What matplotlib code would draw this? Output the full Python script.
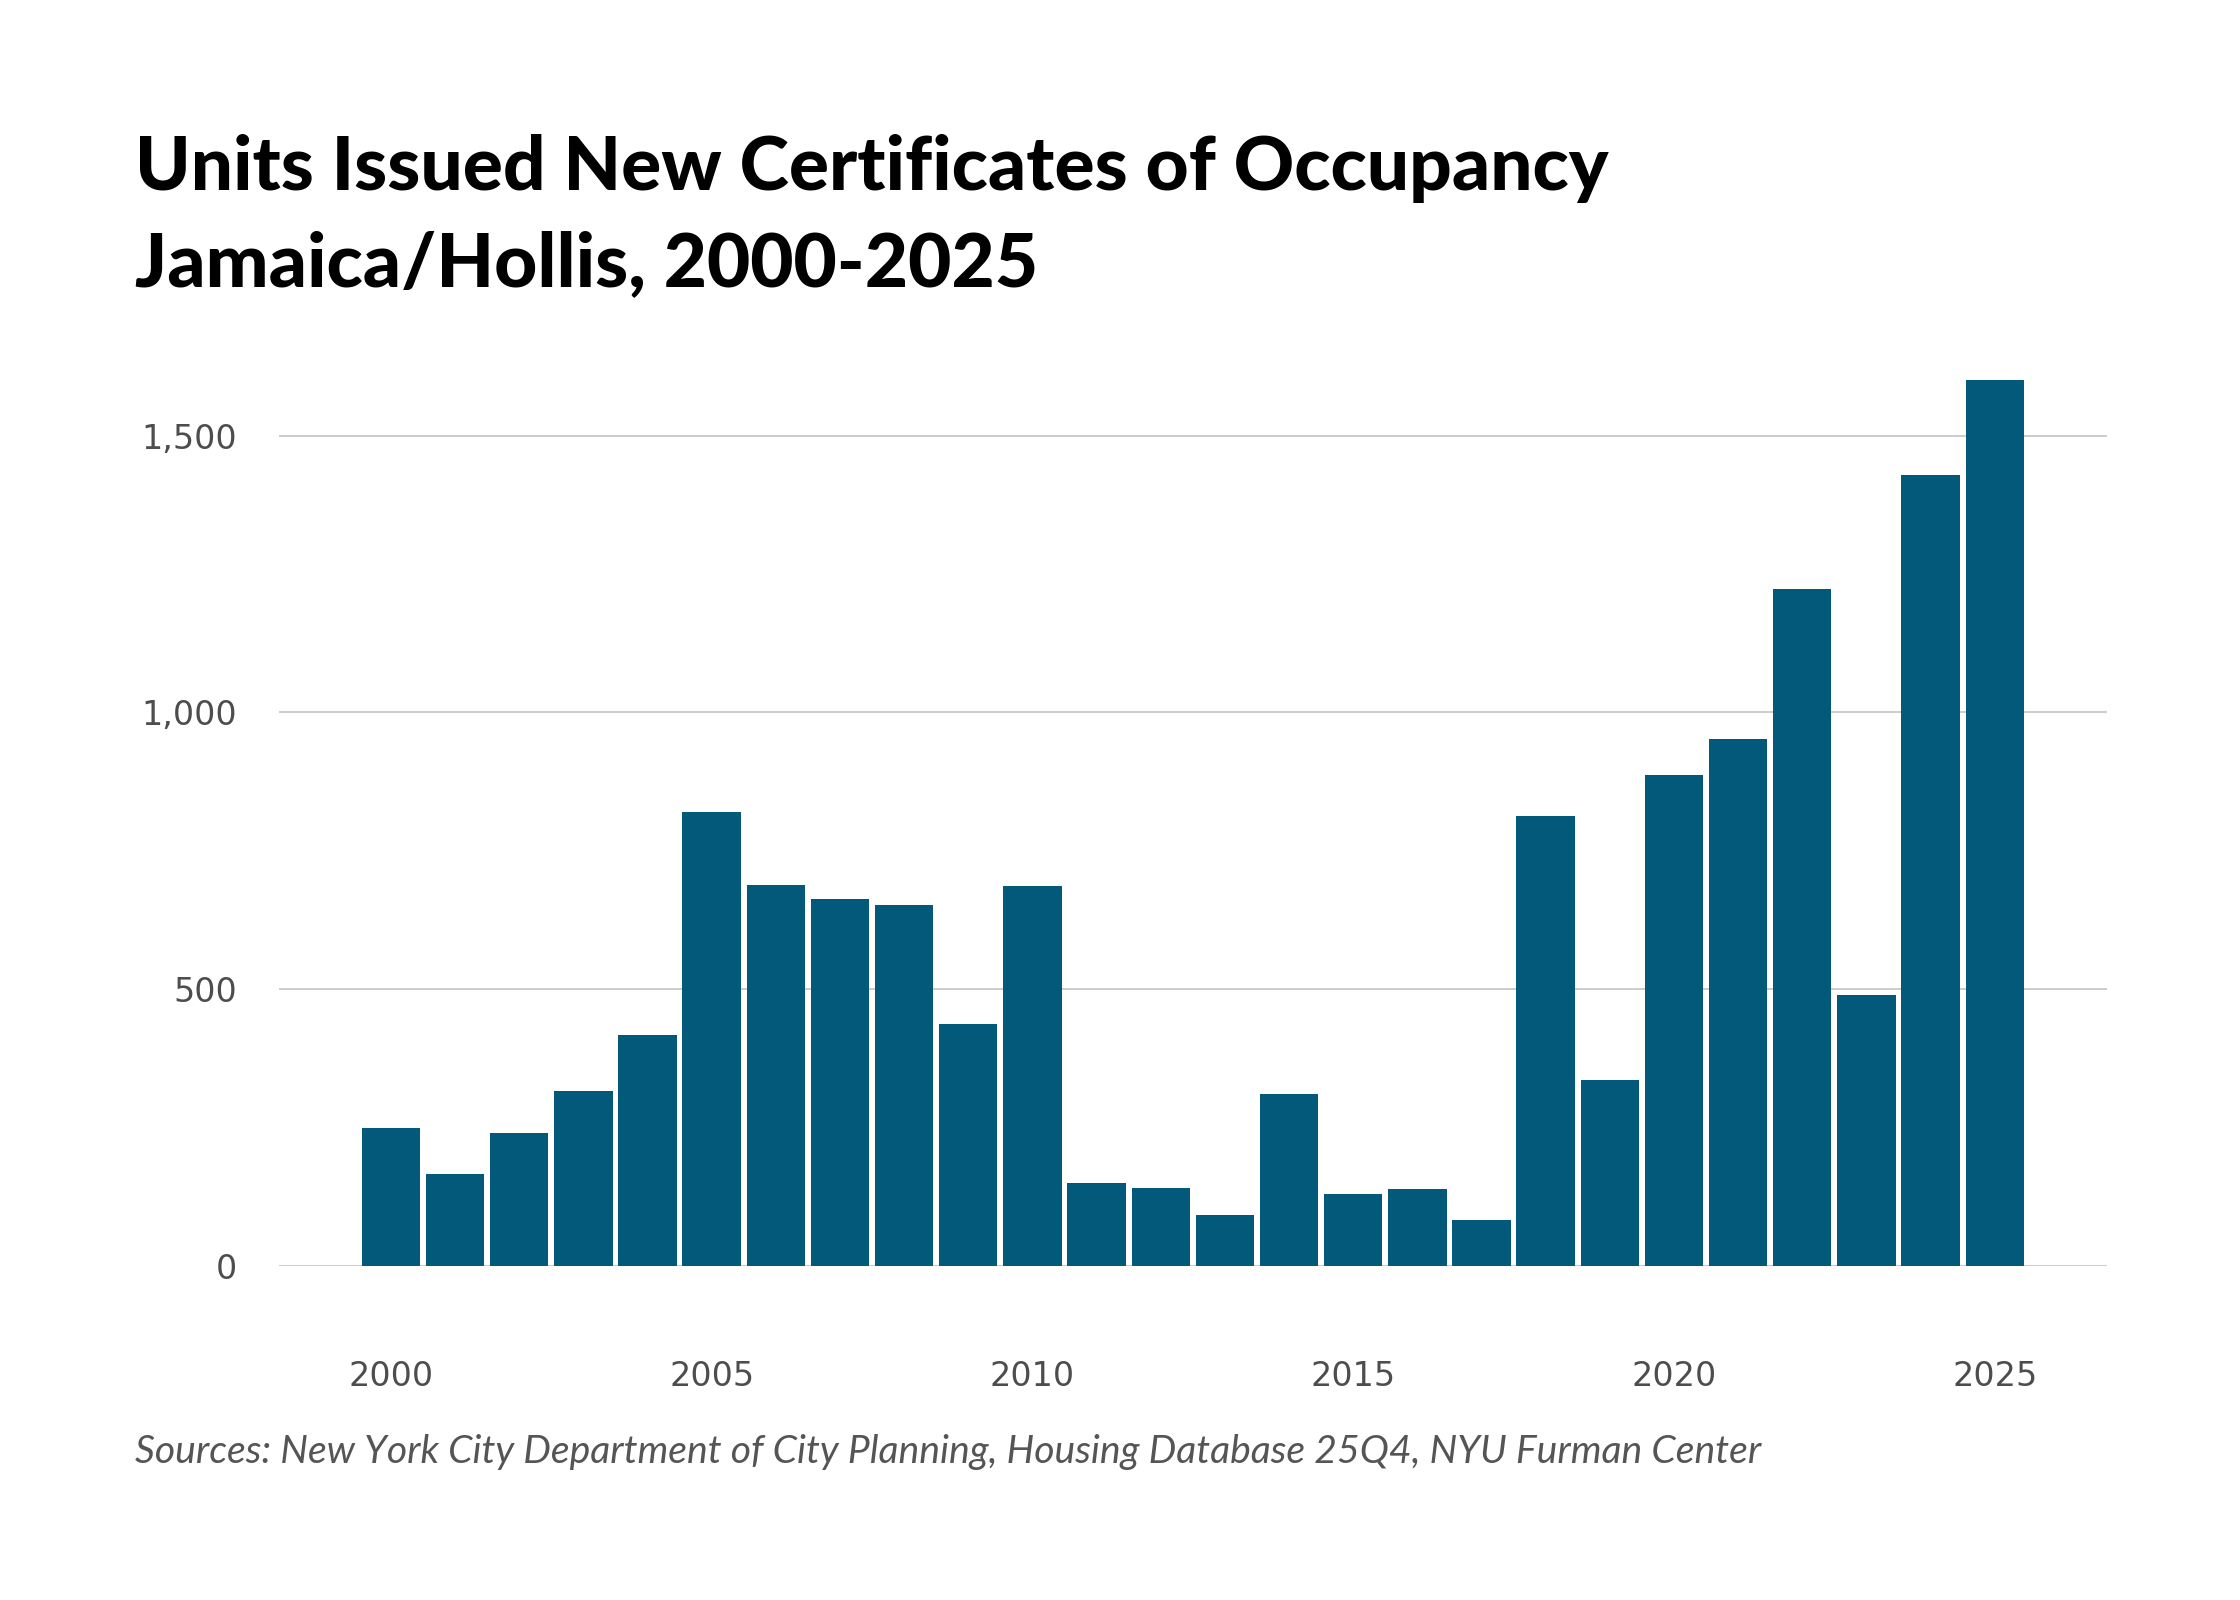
import matplotlib
matplotlib.use("Agg")
import matplotlib.pyplot as plt
from matplotlib.ticker import FuncFormatter

years = list(range(2000, 2026))
units = [249, 166, 240, 315, 417, 819, 688, 663, 652, 437, 686, 149, 140,
         92, 310, 129, 139, 82, 812, 335, 886, 952, 1223, 490, 1428, 1600]
y_ticks = [0, 500, 1000, 1500]
x_ticks = [2000, 2005, 2010, 2015, 2020, 2025]

title_line1 = "Units Issued New Certificates of Occupancy"
title_line2 = "Jamaica/Hollis, 2000-2025"
source_text = "Sources: New York City Department of City Planning, Housing Database 25Q4, NYU Furman Center"

bar_color = "#03597a"
text_gray = "#4d4d4d"

W, H = 2240, 1600
fig = plt.figure(figsize=(11.2, 8), dpi=200)
left, right = 278.6 / W, 2107 / W
bottom, top = 1 - 1265.7 / H, 0.7796
ax = fig.add_axes([left, bottom, right - left, top - bottom])

ax.bar(years, units, width=0.91, color=bar_color, zorder=2)
ax.set_xlim(1998.25, 2026.75)
ax.set_ylim(0, 1650)

ax.set_yticks(y_ticks)
ax.yaxis.set_major_formatter(FuncFormatter(lambda v, p: f"{int(v):,}"))
ax.set_xticks(x_ticks)
ax.grid(axis="y", color="#cccccc", linewidth=0.7, zorder=0)
ax.grid(axis="x", visible=False)
for s in ax.spines.values():
    s.set_visible(False)
ax.tick_params(axis="both", length=0, labelsize=12, labelcolor=text_gray)
ax.tick_params(axis="y", pad=15)
ax.tick_params(axis="x", pad=34)
for lbl in ax.get_xticklabels() + ax.get_yticklabels():
    lbl.set_fontfamily("DejaVu Sans")

x0 = 135 / W
t1 = fig.text(x0, 1 - 190 / H, title_line1, fontsize=24, fontweight="black",
              family="Lato", color="black", va="baseline", ha="left")
t2 = fig.text(x0, 1 - 286 / H, title_line2, fontsize=24, fontweight="black",
              family="Lato", color="black", va="baseline", ha="left")
src = fig.text(x0, 1 - 1452 / H, source_text, fontsize=13, style="italic",
               fontweight="normal", family="Lato", color="#555555",
               va="center", ha="left")

# fit text widths to the reference layout
fig.canvas.draw()
r = fig.canvas.get_renderer()
w1 = t1.get_window_extent(r).width
scale = 1473 / w1
t1.set_fontsize(24 * scale)
t2.set_fontsize(24 * scale)
ws = src.get_window_extent(r).width
src.set_fontsize(13 * 1626 / ws)

fig.savefig("out.png", dpi=200, facecolor="white")
